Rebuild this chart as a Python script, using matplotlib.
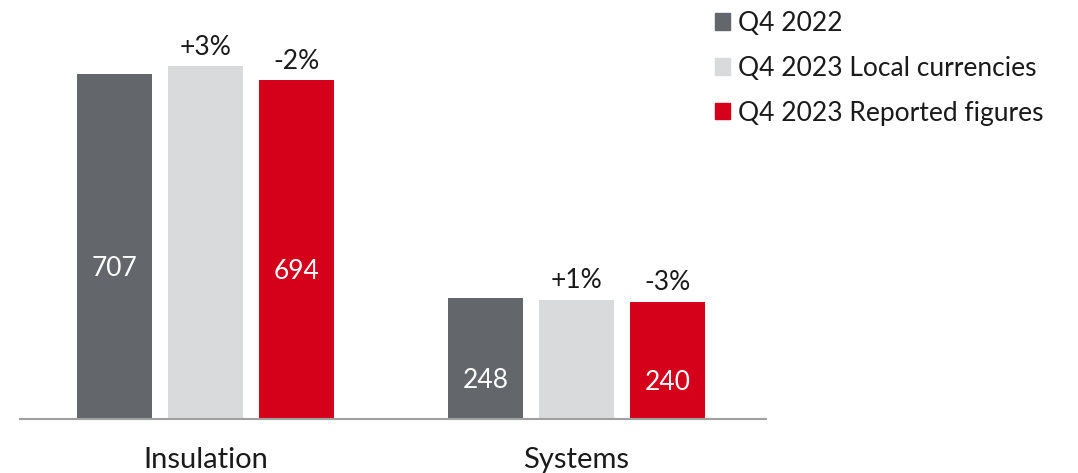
import matplotlib
matplotlib.use("Agg")
import matplotlib.pyplot as plt
from matplotlib.patches import Patch
import numpy as np

plt.rcParams['font.family'] = ['Lato', 'DejaVu Sans']

categories = ['Insulation', 'Systems']
series = ['Q4 2022', 'Q4 2023 Local currencies', 'Q4 2023 Reported figures']
q4_2022 = [707, 248]
q4_2023_local = [722, 244]
q4_2023_reported = [694, 240]
pct_local = ['+3%', '+1%']
pct_reported = ['-2%', '-3%']

colors = ['#63666a', '#d9dadb', '#d50019']
txt = '#1a1a1a'

fig = plt.figure(figsize=(10.78, 4.73), dpi=100)
ax = fig.add_axes([20 / 1078, 54 / 473, 746 / 1078, 419 / 473])

x = np.arange(len(categories))
w = 0.202
off = 0.2453
values = [q4_2022, q4_2023_local, q4_2023_reported]
for i, (vals, c) in enumerate(zip(values, colors)):
    ax.bar(x + (i - 1) * off, vals, width=w, color=c, label=series[i])

# values inside the dark and red bars
for j in range(len(categories)):
    for i in (0, 2):
        v = values[i][j]
        ax.annotate(str(v), (x[j] + (i - 1) * off, v / 2), xytext=(0, -22),
                    textcoords='offset pixels', ha='center', va='center',
                    color='white', fontsize=19)

# percent changes above the 2023 bars
for j in range(len(categories)):
    for i, labs in ((1, pct_local), (2, pct_reported)):
        v = values[i][j]
        ax.annotate(labs[j], (x[j] + (i - 1) * off, v), xytext=(0, 19),
                    textcoords='offset pixels', ha='center', va='center',
                    color=txt, fontsize=19)

ax.set_xlim(-0.5, 1.511)
ax.set_ylim(0, 858)
ax.set_xticks(x)
ax.set_xticklabels(categories, fontsize=21, color=txt)
ax.tick_params(axis='x', length=0, pad=20)
ax.set_yticks([])
for s in ('top', 'right', 'left'):
    ax.spines[s].set_visible(False)
ax.spines['bottom'].set_color('#a0a0a0')
ax.spines['bottom'].set_linewidth(1.5)

handles = [Patch(color=c) for c in colors]
fig.legend(handles, series, loc='upper left', bbox_to_anchor=(715 / 1078, 462 / 473),
           frameon=False, fontsize=19, handlelength=0.58, handleheight=0.58,
           handletextpad=0.3, labelspacing=0.75, borderaxespad=0.0,
           borderpad=0.0, labelcolor=txt)

fig.savefig('out.png', dpi=100)
